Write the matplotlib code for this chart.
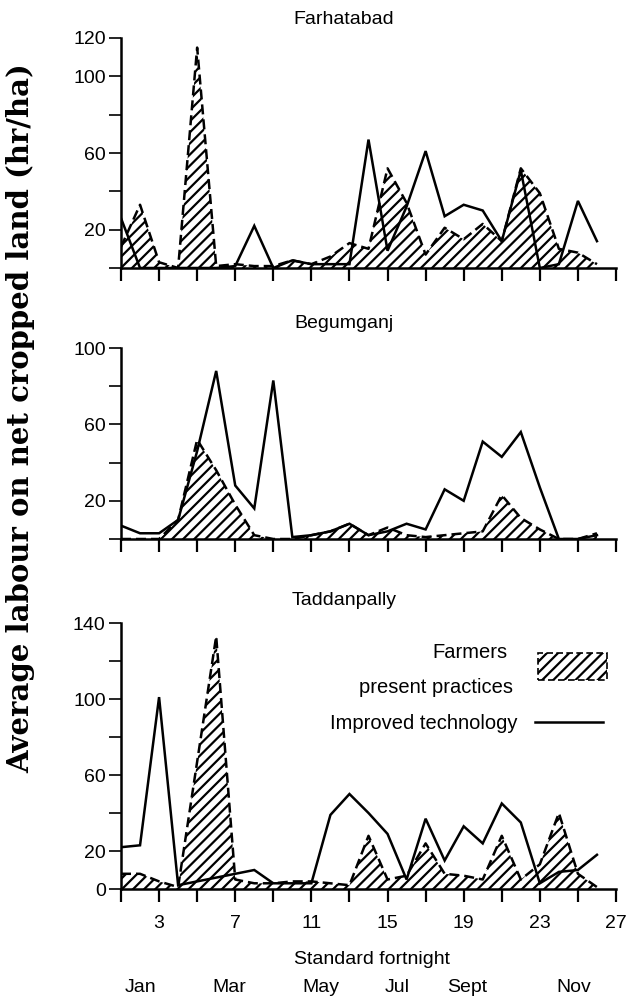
import matplotlib
matplotlib.use("Agg")
import matplotlib.pyplot as plt
from matplotlib.ticker import FixedLocator, FixedFormatter
from matplotlib.patches import Rectangle
from matplotlib.lines import Line2D
from matplotlib.transforms import blended_transform_factory

plt.rcParams['font.family'] = ['Liberation Sans', 'DejaVu Sans']
plt.rcParams['hatch.linewidth'] = 1.6
plt.rcParams['hatch.color'] = 'black'

# ---- data: average labour (hr/ha) per standard fortnight ----
fortnights = list(range(1, 27))

sites = ["Farhatabad", "Begumganj", "Taddanpally"]

farmers_farhatabad = [11, 33, 3, 0, 115, 1, 2, 1, 1, 4, 2, 6, 13, 10, 52, 34,
                      7, 21, 15, 23, 14, 52, 39, 10, 8, 2]
improved_farhatabad = [26, 0, 0, 0, 0, 0, 1, 22, 0, 4, 2, 2, 2, 67, 9, 32,
                       61, 27, 33, 30, 14, 51, 0, 2, 35, 14]

farmers_begumganj = [0, 0, 0, 10, 52, 36, 18, 2, 0, 0, 2, 4, 8, 2, 6, 2,
                     1, 2, 3, 4, 23, 11, 5, 0, 0, 3]
improved_begumganj = [7, 3, 3, 10, 46, 88, 28, 16, 83, 1, 2, 4, 8, 2, 4, 8,
                      5, 26, 20, 51, 43, 56, 27, 0, 0, 2]

farmers_taddanpally = [8, 8, 4, 1, 67, 133, 5, 3, 3, 4, 4, 3, 2, 28, 5, 7,
                       24, 8, 7, 5, 28, 5, 13, 40, 8, 1]
improved_taddanpally = [22, 23, 101, 2, 4, 6, 8, 10, 3, 3, 3, 39, 50, 40, 29, 5,
                        37, 15, 33, 24, 45, 35, 3, 9, 10, 18]

farmers = [farmers_farhatabad, farmers_begumganj, farmers_taddanpally]
improved = [improved_farhatabad, improved_begumganj, improved_taddanpally]

# y ticks every 20, labelled only at a few values
y_max = [120, 100, 140]
y_labelled = [[20, 60, 100, 120], [20, 60, 100], [0, 20, 60, 100, 140]]

x_ticks = list(range(1, 28, 2))
x_tick_labels = [3, 7, 11, 15, 19, 23, 27]

month_names = ["Jan", "Mar", "May", "Jul", "Sept", "Nov"]
month_pos = [2.0, 6.7, 11.5, 15.5, 19.2, 24.8]

# ---- layout (pixels) ----
W, H = 629, 997
fig = plt.figure(figsize=(W / 100, H / 100), dpi=100)

def fx(px):
    return px / W

def fy(py):
    return 1 - py / H

panel_px = [(38, 268), (348, 539), (623, 889)]
title_y = [20, 323, 600]
HATCH = '///'

axes = []
for i, (top, bot) in enumerate(panel_px):
    ax = fig.add_axes([fx(121), fy(bot), fx(616) - fx(121), (bot - top) / H])
    axes.append(ax)

    ax.fill_between(fortnights, 0, farmers[i], facecolor='none',
                    edgecolor='black', hatch=HATCH, linewidth=0)
    ax.plot(fortnights, farmers[i], color='black', lw=1.8,
            linestyle=(0, (4, 2)), dash_capstyle='butt')
    ax.plot(fortnights, improved[i], color='black', lw=1.8,
            solid_joinstyle='miter')

    ax.set_xlim(1, 27)
    ax.set_ylim(0, y_max[i])
    for s in ['top', 'right']:
        ax.spines[s].set_visible(False)
    for s in ['left', 'bottom']:
        ax.spines[s].set_linewidth(1.8)

    yt = list(range(0, y_max[i] + 1, 20))
    ax.yaxis.set_major_locator(FixedLocator(yt))
    ax.yaxis.set_major_formatter(FixedFormatter(
        [str(v) if v in y_labelled[i] else '' for v in yt]))
    ax.xaxis.set_major_locator(FixedLocator(x_ticks))
    if i == 2:
        ax.xaxis.set_major_formatter(FixedFormatter(
            [str(v) if v in x_tick_labels else '' for v in x_ticks]))
    else:
        ax.xaxis.set_major_formatter(FixedFormatter([''] * len(x_ticks)))

    ax.tick_params(axis='y', direction='out', length=9, width=1.2,
                   labelsize=14, pad=2)
    ax.tick_params(axis='x', direction='out', length=9, width=1.6,
                   labelsize=14, pad=10)

    fig.text(fx(344), fy(title_y[i]), sites[i], ha='center', va='center',
             fontsize=14)

# ---- axis titles ----
fig.text(fx(21), fy(418), "Average labour on net cropped land (hr/ha)",
         rotation=90, ha='center', va='center', fontsize=21,
         fontfamily='DejaVu Serif', fontweight='bold')

fig.text(fx(372), fy(959), "Standard fortnight", ha='center', va='center',
         fontsize=14)

ax = axes[2]
trans = blended_transform_factory(ax.transData, fig.transFigure)
for name, pos in zip(month_names, month_pos):
    ax.text(pos, fy(987), name, transform=trans, ha='center', va='center',
            fontsize=14)

# ---- key ----
fig.text(fx(507), fy(652), "Farmers", ha='right', va='center', fontsize=14.5)
fig.text(fx(513), fy(687), "present practices", ha='right', va='center',
         fontsize=14.5)
fig.text(fx(517), fy(723), "Improved technology", ha='right', va='center',
         fontsize=14.5)
fig.patches.append(Rectangle((fx(538), fy(680)), fx(607) - fx(538),
                             fy(653) - fy(680), transform=fig.transFigure,
                             facecolor='none', edgecolor='black', hatch='///',
                             linewidth=1.2, linestyle=(0, (4, 2))))
fig.lines.append(Line2D([fx(535), fx(603)], [fy(722), fy(722)],
                        transform=fig.transFigure, color='black', lw=1.8))

fig.savefig("out.png", dpi=100)
